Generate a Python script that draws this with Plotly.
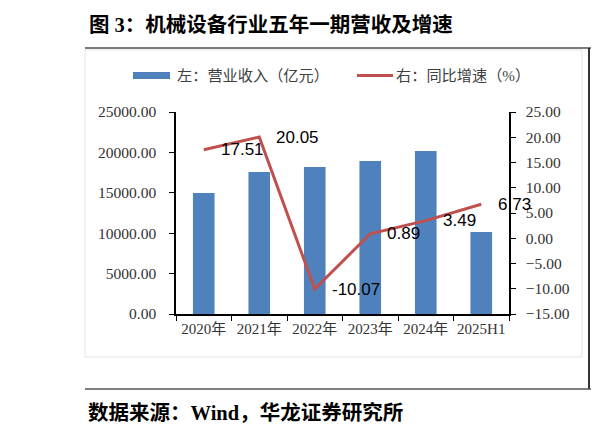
import plotly.graph_objects as go

# ========================
# Datos
# ========================
categorias = ["2020年", "2021年", "2022年", "2023年", "2024年", "2025H1"]
ingresos = [14980, 17570, 18190, 18940, 20170, 10150]   # 亿元
crecimiento = [17.51, 20.05, -10.07, 0.89, 3.49, 6.73]  # %

titulo = "图 3：机械设备行业五年一期营收及增速"
fuente = "数据来源：Wind，华龙证券研究所"
leyenda_barra = "左：营业收入（亿元）"
leyenda_linea = "右：同比增速（%）"

AZUL = "#4F81BD"
ROJO = "#C0504D"

# la página deja 8px de margen en el body
OFF = 8
W, H = 599 - OFF, 438 - OFF
L, R, T, B = 176 - OFF, 509 - OFF, 112 - OFF, 314 - OFF  # área de trazado


def px_x(p):
    return (p - OFF - L) / (R - L)


def px_y(p):
    return (B - (p - OFF)) / (B - T)


serif = "Liberation Serif, Noto Sans CJK SC, serif"

fig = go.Figure()
fig.add_trace(go.Bar(
    x=categorias, y=ingresos, name=leyenda_barra,
    marker=dict(color=AZUL, line=dict(width=0)),
))
fig.add_trace(go.Scatter(
    x=categorias, y=crecimiento, name=leyenda_linea, yaxis="y2",
    mode="lines", line=dict(color=ROJO, width=3),
))

# etiquetas de datos a la derecha de cada punto
for c, v in zip(categorias, crecimiento):
    fig.add_annotation(
        x=c, y=v, yref="y2", text=f"{v:.2f}", showarrow=False,
        xanchor="left", xshift=15,
        font=dict(family="Liberation Sans, Arial", size=17, color="black"),
    )

# ========================
# Marco, título, leyenda y fuente
# ========================
shapes = [
    dict(type="rect", xref="paper", yref="paper",
         x0=px_x(85), x1=px_x(582), y0=px_y(357), y1=px_y(50),
         line=dict(color="#e3e3e3", width=1), layer="below"),
    dict(type="line", xref="paper", yref="paper",
         x0=px_x(85), x1=px_x(600), y0=px_y(48), y1=px_y(48),
         line=dict(color="#7a7a7a", width=2)),
    # borde derecho del documento (lo más a la derecha que se ve)
    dict(type="line", xref="paper", yref="paper",
         x0=px_x(589), x1=px_x(589), y0=px_y(48), y1=px_y(389),
         line=dict(color="#333333", width=2)),
    dict(type="line", xref="paper", yref="paper",
         x0=px_x(85), x1=px_x(600), y0=px_y(389), y1=px_y(389),
         line=dict(color="#555555", width=1.5)),
    # leyenda manual
    dict(type="rect", xref="paper", yref="paper",
         x0=px_x(133), x1=px_x(170), y0=px_y(79), y1=px_y(72),
         fillcolor=AZUL, line=dict(width=0)),
    dict(type="line", xref="paper", yref="paper",
         x0=px_x(357), x1=px_x(393), y0=px_y(75.5), y1=px_y(75.5),
         line=dict(color=ROJO, width=3)),
]

anots = [
    dict(text=titulo, x=px_x(87), y=px_y(25), xanchor="left", yanchor="middle",
         font=dict(family=serif, size=20.5, color="black", weight="bold")),
    dict(text=fuente, x=px_x(86), y=px_y(412), xanchor="left", yanchor="middle",
         font=dict(family=serif, size=20.5, color="black", weight="bold")),
    dict(text=leyenda_barra, x=px_x(175), y=px_y(75), xanchor="left", yanchor="middle",
         font=dict(family=serif, size=15.2, color="#404040")),
    dict(text=leyenda_linea, x=px_x(394), y=px_y(75), xanchor="left", yanchor="middle",
         font=dict(family=serif, size=15.2, color="#404040")),
]
for a in anots:
    fig.add_annotation(xref="paper", yref="paper", showarrow=False, **a)

fig.update_layout(
    width=W, height=H,
    margin=dict(l=L, r=W - R, t=T, b=H - B),
    paper_bgcolor="white", plot_bgcolor="white",
    showlegend=False,
    bargap=0.61,
    shapes=shapes,
    xaxis=dict(
        type="category", range=[-0.5, len(categorias) - 0.5],
        showline=True, linecolor="black", linewidth=1.5,
        ticks="outside", tickson="boundaries", ticklen=5, tickcolor="black",
        tickangle=0,
        tickfont=dict(family=serif, size=15, color="#333333"),
        showgrid=False,
    ),
    yaxis=dict(
        range=[0, 25000], dtick=5000, tickformat=".2f",
        showline=True, linecolor="black", linewidth=1.5,
        ticks="outside", ticklen=5, tickcolor="black",
        tickfont=dict(family=serif, size=15.5, color="#333333"),
        ticklabelstandoff=10, showgrid=False, zeroline=False,
    ),
    yaxis2=dict(
        range=[-15, 25], dtick=5, tickformat=".2f", overlaying="y", side="right",
        showline=True, linecolor="black", linewidth=1.5,
        ticks="outside", ticklen=5, tickcolor="black",
        tickfont=dict(family=serif, size=15.5, color="#333333"),
        ticklabelstandoff=7, showgrid=False, zeroline=False,
    ),
)

fig.write_html("out.html")
